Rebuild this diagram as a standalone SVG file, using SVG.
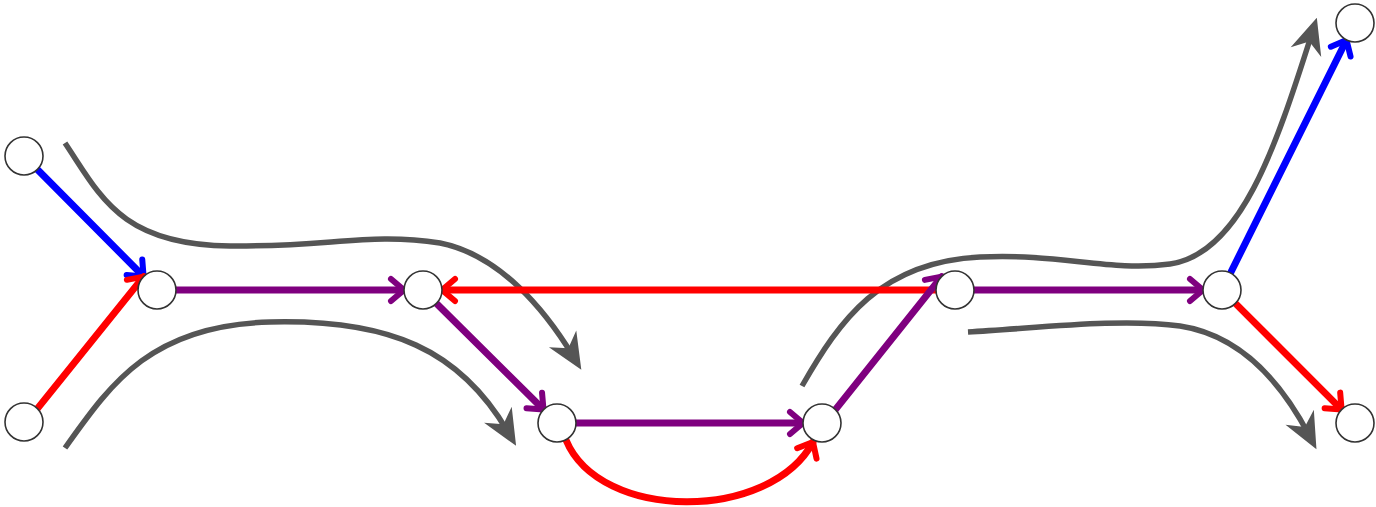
<svg xmlns="http://www.w3.org/2000/svg" width="1376" height="507" viewBox="0 0 1376 507">
  <style>
    .node { fill: #ffffff; stroke: #333333; stroke-width: 1.6; }
    .edge { fill: none; stroke-width: 7; stroke-linecap: round; }
    .blue { stroke: #0000ff; }
    .red { stroke: #ff0000; }
    .purple { stroke: #7f007f; }
    .flow { fill: none; stroke: #555555; stroke-width: 5.5; }
  </style>
  <defs>
    <marker id="head-blue" markerUnits="userSpaceOnUse" markerWidth="40" markerHeight="40" refX="0" refY="0" orient="auto" overflow="visible">
      <path d="M-13,-11 L0,0 L-13,11" fill="none" stroke="#0000ff" stroke-width="6" stroke-linecap="round" stroke-linejoin="round"/>
    </marker>
    <marker id="head-red" markerUnits="userSpaceOnUse" markerWidth="40" markerHeight="40" refX="0" refY="0" orient="auto" overflow="visible">
      <path d="M-13,-11 L0,0 L-13,11" fill="none" stroke="#ff0000" stroke-width="6" stroke-linecap="round" stroke-linejoin="round"/>
    </marker>
    <marker id="head-purple" markerUnits="userSpaceOnUse" markerWidth="40" markerHeight="40" refX="0" refY="0" orient="auto" overflow="visible">
      <path d="M-13,-11 L0,0 L-13,11" fill="none" stroke="#7f007f" stroke-width="6" stroke-linecap="round" stroke-linejoin="round"/>
    </marker>
    <marker id="head-flow" markerUnits="userSpaceOnUse" markerWidth="60" markerHeight="60" refX="0" refY="0" orient="auto" overflow="visible">
      <path d="M16,0 L-20,-16 L-9,0 L-20,16 Z" fill="#555555"/>
    </marker>
  </defs>

  <!-- flow curves -->
  <g id="flows">
    <path class="flow" d="M65,143 C100,195 120,245 230,246 C330,247 370,232 440,243 C500,255 545,310 573,356" marker-end="url(#head-flow)"/>
    <path class="flow" d="M65,448 C110,385 150,325 270,322 C390,319 460,350 508,432" marker-end="url(#head-flow)"/>
    <path class="flow" d="M802,386 C840,320 880,262 980,257 C1060,253 1110,272 1170,264 C1240,254 1275,150 1312,33" marker-end="url(#head-flow)"/>
    <path class="flow" d="M968,332 C1040,328 1120,318 1180,326 C1240,335 1280,380 1309,435" marker-end="url(#head-flow)"/>
  </g>

  <!-- connectors -->
  <g id="connectors">
    <line class="edge blue" x1="37.4" y1="169.5" x2="143.6" y2="276.5" marker-end="url(#head-blue)"/>
    <line class="edge red" x1="37.4" y1="408.6" x2="143.6" y2="276.6" marker-end="url(#head-red)"/>
    <line class="edge purple" x1="176" y1="290" x2="404" y2="290" marker-end="url(#head-purple)"/>
    <line class="edge red" x1="936" y1="290" x2="442" y2="290" marker-end="url(#head-red)"/>
    <line class="edge purple" x1="436.5" y1="303.4" x2="543.5" y2="409.6" marker-end="url(#head-purple)"/>
    <line class="edge purple" x1="576" y1="423" x2="803" y2="423" marker-end="url(#head-purple)"/>
    <path class="edge red" d="M566,440 C600,522 770,522 813,442" marker-end="url(#head-red)"/>
    <line class="edge purple" x1="835.4" y1="409.6" x2="941.6" y2="276.6" marker-end="url(#head-purple)"/>
    <line class="edge purple" x1="974" y1="290" x2="1203" y2="290" marker-end="url(#head-purple)"/>
    <line class="edge blue" x1="1230.5" y1="273" x2="1346.5" y2="40" marker-end="url(#head-blue)"/>
    <line class="edge red" x1="1235.4" y1="303.4" x2="1341.6" y2="409.6" marker-end="url(#head-red)"/>
  </g>

  <!-- nodes -->
  <g id="node-a"><circle class="node" cx="24" cy="156" r="19"/></g>
  <g id="node-b"><circle class="node" cx="24" cy="422" r="19"/></g>
  <g id="node-c"><circle class="node" cx="157" cy="290" r="19"/></g>
  <g id="node-d"><circle class="node" cx="423" cy="290" r="19"/></g>
  <g id="node-e"><circle class="node" cx="557" cy="423" r="19"/></g>
  <g id="node-f"><circle class="node" cx="822" cy="423" r="19"/></g>
  <g id="node-g"><circle class="node" cx="955" cy="290" r="19"/></g>
  <g id="node-h"><circle class="node" cx="1222" cy="290" r="19"/></g>
  <g id="node-i"><circle class="node" cx="1355" cy="23" r="19"/></g>
  <g id="node-j"><circle class="node" cx="1355" cy="423" r="19"/></g>
</svg>
